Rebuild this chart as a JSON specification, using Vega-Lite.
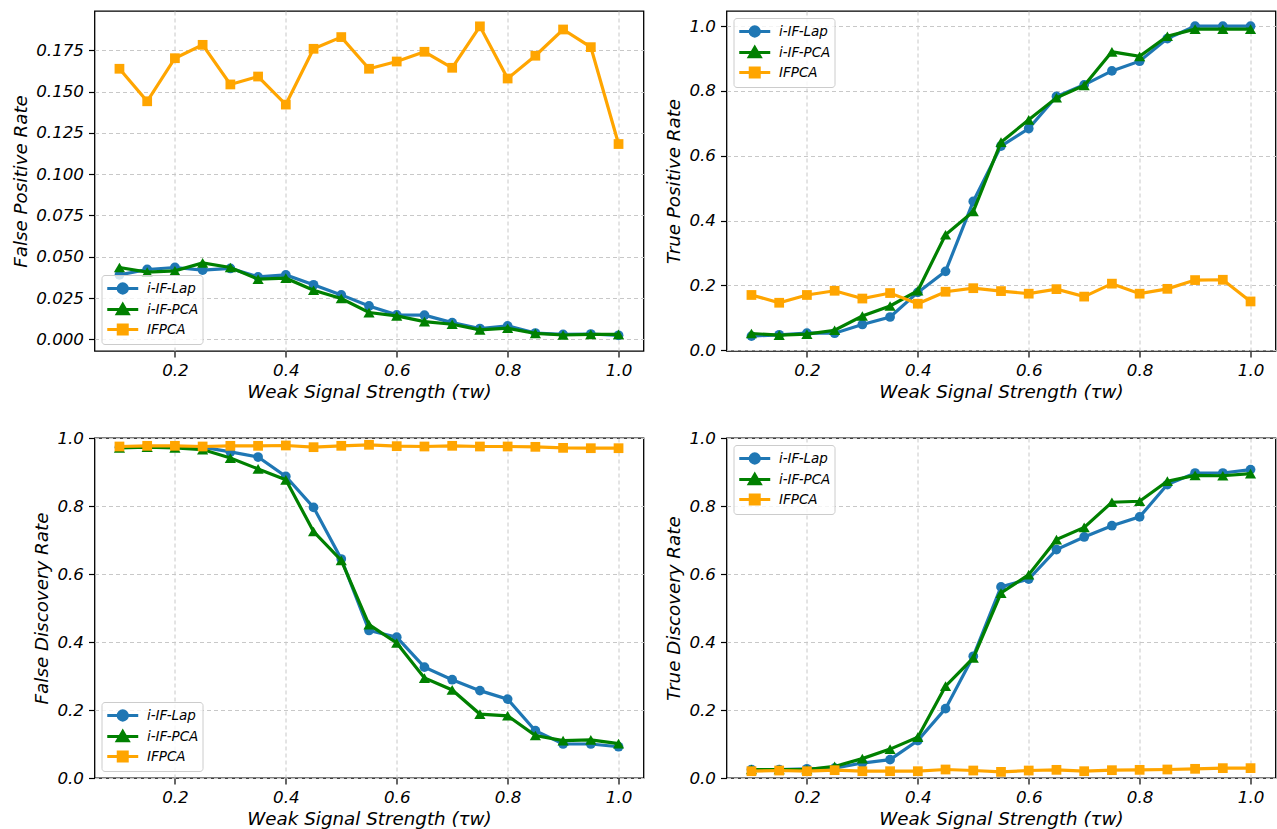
{
  "$schema": "https://vega.github.io/schema/vega-lite/v6.json",
  "padding": {"left": 10.5, "top": 10, "right": 0, "bottom": 0},
  "autosize": {"type": "pad"},
  "background": "white",
  "datasets": {
    "fpr": [
      {"t":0.1,"s":"i-IF-Lap","v":0.039},{"t":0.15,"s":"i-IF-Lap","v":0.0423},{"t":0.2,"s":"i-IF-Lap","v":0.0435},{"t":0.25,"s":"i-IF-Lap","v":0.0419},{"t":0.3,"s":"i-IF-Lap","v":0.0429},{"t":0.35,"s":"i-IF-Lap","v":0.0378},{"t":0.4,"s":"i-IF-Lap","v":0.039},{"t":0.45,"s":"i-IF-Lap","v":0.033},{"t":0.5,"s":"i-IF-Lap","v":0.0269},{"t":0.55,"s":"i-IF-Lap","v":0.0202},{"t":0.6,"s":"i-IF-Lap","v":0.0148},{"t":0.65,"s":"i-IF-Lap","v":0.0146},{"t":0.7,"s":"i-IF-Lap","v":0.0101},{"t":0.75,"s":"i-IF-Lap","v":0.0065},{"t":0.8,"s":"i-IF-Lap","v":0.0081},{"t":0.85,"s":"i-IF-Lap","v":0.0038},{"t":0.9,"s":"i-IF-Lap","v":0.003},{"t":0.95,"s":"i-IF-Lap","v":0.0032},{"t":1.0,"s":"i-IF-Lap","v":0.0024},
      {"t":0.1,"s":"i-IF-PCA","v":0.0435},{"t":0.15,"s":"i-IF-PCA","v":0.0407},{"t":0.2,"s":"i-IF-PCA","v":0.0415},{"t":0.25,"s":"i-IF-PCA","v":0.0463},{"t":0.3,"s":"i-IF-PCA","v":0.0435},{"t":0.35,"s":"i-IF-PCA","v":0.0364},{"t":0.4,"s":"i-IF-PCA","v":0.037},{"t":0.45,"s":"i-IF-PCA","v":0.0297},{"t":0.5,"s":"i-IF-PCA","v":0.0247},{"t":0.55,"s":"i-IF-PCA","v":0.0162},{"t":0.6,"s":"i-IF-PCA","v":0.0142},{"t":0.65,"s":"i-IF-PCA","v":0.0107},{"t":0.7,"s":"i-IF-PCA","v":0.0091},{"t":0.75,"s":"i-IF-PCA","v":0.0057},{"t":0.8,"s":"i-IF-PCA","v":0.0067},{"t":0.85,"s":"i-IF-PCA","v":0.0036},{"t":0.9,"s":"i-IF-PCA","v":0.0026},{"t":0.95,"s":"i-IF-PCA","v":0.003},{"t":1.0,"s":"i-IF-PCA","v":0.003},
      {"t":0.1,"s":"IFPCA","v":0.1639},{"t":0.15,"s":"IFPCA","v":0.1442},{"t":0.2,"s":"IFPCA","v":0.1703},{"t":0.25,"s":"IFPCA","v":0.1784},{"t":0.3,"s":"IFPCA","v":0.1544},{"t":0.35,"s":"IFPCA","v":0.1592},{"t":0.4,"s":"IFPCA","v":0.1422},{"t":0.45,"s":"IFPCA","v":0.176},{"t":0.5,"s":"IFPCA","v":0.1831},{"t":0.55,"s":"IFPCA","v":0.1639},{"t":0.6,"s":"IFPCA","v":0.1683},{"t":0.65,"s":"IFPCA","v":0.1742},{"t":0.7,"s":"IFPCA","v":0.1645},{"t":0.75,"s":"IFPCA","v":0.1896},{"t":0.8,"s":"IFPCA","v":0.158},{"t":0.85,"s":"IFPCA","v":0.1718},{"t":0.9,"s":"IFPCA","v":0.1877},{"t":0.95,"s":"IFPCA","v":0.177},{"t":1.0,"s":"IFPCA","v":0.1183}
    ],
    "tpr": [
      {"t":0.1,"s":"i-IF-Lap","v":0.043},{"t":0.15,"s":"i-IF-Lap","v":0.047},{"t":0.2,"s":"i-IF-Lap","v":0.052},{"t":0.25,"s":"i-IF-Lap","v":0.052},{"t":0.3,"s":"i-IF-Lap","v":0.079},{"t":0.35,"s":"i-IF-Lap","v":0.102},{"t":0.4,"s":"i-IF-Lap","v":0.178},{"t":0.45,"s":"i-IF-Lap","v":0.243},{"t":0.5,"s":"i-IF-Lap","v":0.459},{"t":0.55,"s":"i-IF-Lap","v":0.63},{"t":0.6,"s":"i-IF-Lap","v":0.684},{"t":0.65,"s":"i-IF-Lap","v":0.783},{"t":0.7,"s":"i-IF-Lap","v":0.819},{"t":0.75,"s":"i-IF-Lap","v":0.862},{"t":0.8,"s":"i-IF-Lap","v":0.892},{"t":0.85,"s":"i-IF-Lap","v":0.962},{"t":0.9,"s":"i-IF-Lap","v":1.0},{"t":0.95,"s":"i-IF-Lap","v":1.0},{"t":1.0,"s":"i-IF-Lap","v":1.0},
      {"t":0.1,"s":"i-IF-PCA","v":0.051},{"t":0.15,"s":"i-IF-PCA","v":0.046},{"t":0.2,"s":"i-IF-PCA","v":0.049},{"t":0.25,"s":"i-IF-PCA","v":0.061},{"t":0.3,"s":"i-IF-PCA","v":0.105},{"t":0.35,"s":"i-IF-PCA","v":0.136},{"t":0.4,"s":"i-IF-PCA","v":0.183},{"t":0.45,"s":"i-IF-PCA","v":0.356},{"t":0.5,"s":"i-IF-PCA","v":0.428},{"t":0.55,"s":"i-IF-PCA","v":0.642},{"t":0.6,"s":"i-IF-PCA","v":0.711},{"t":0.65,"s":"i-IF-PCA","v":0.779},{"t":0.7,"s":"i-IF-PCA","v":0.817},{"t":0.75,"s":"i-IF-PCA","v":0.921},{"t":0.8,"s":"i-IF-PCA","v":0.907},{"t":0.85,"s":"i-IF-PCA","v":0.969},{"t":0.9,"s":"i-IF-PCA","v":0.991},{"t":0.95,"s":"i-IF-PCA","v":0.991},{"t":1.0,"s":"i-IF-PCA","v":0.991},
      {"t":0.1,"s":"IFPCA","v":0.17},{"t":0.15,"s":"IFPCA","v":0.146},{"t":0.2,"s":"IFPCA","v":0.17},{"t":0.25,"s":"IFPCA","v":0.183},{"t":0.3,"s":"IFPCA","v":0.159},{"t":0.35,"s":"IFPCA","v":0.176},{"t":0.4,"s":"IFPCA","v":0.143},{"t":0.45,"s":"IFPCA","v":0.18},{"t":0.5,"s":"IFPCA","v":0.191},{"t":0.55,"s":"IFPCA","v":0.182},{"t":0.6,"s":"IFPCA","v":0.174},{"t":0.65,"s":"IFPCA","v":0.188},{"t":0.7,"s":"IFPCA","v":0.165},{"t":0.75,"s":"IFPCA","v":0.205},{"t":0.8,"s":"IFPCA","v":0.174},{"t":0.85,"s":"IFPCA","v":0.189},{"t":0.9,"s":"IFPCA","v":0.216},{"t":0.95,"s":"IFPCA","v":0.217},{"t":1.0,"s":"IFPCA","v":0.15}
    ],
    "fdr": [
      {"t":0.1,"s":"i-IF-Lap","v":0.973},{"t":0.15,"s":"i-IF-Lap","v":0.975},{"t":0.2,"s":"i-IF-Lap","v":0.975},{"t":0.25,"s":"i-IF-Lap","v":0.973},{"t":0.3,"s":"i-IF-Lap","v":0.959},{"t":0.35,"s":"i-IF-Lap","v":0.944},{"t":0.4,"s":"i-IF-Lap","v":0.887},{"t":0.45,"s":"i-IF-Lap","v":0.796},{"t":0.5,"s":"i-IF-Lap","v":0.644},{"t":0.55,"s":"i-IF-Lap","v":0.434},{"t":0.6,"s":"i-IF-Lap","v":0.414},{"t":0.65,"s":"i-IF-Lap","v":0.326},{"t":0.7,"s":"i-IF-Lap","v":0.289},{"t":0.75,"s":"i-IF-Lap","v":0.257},{"t":0.8,"s":"i-IF-Lap","v":0.232},{"t":0.85,"s":"i-IF-Lap","v":0.139},{"t":0.9,"s":"i-IF-Lap","v":0.1},{"t":0.95,"s":"i-IF-Lap","v":0.1},{"t":1.0,"s":"i-IF-Lap","v":0.092},
      {"t":0.1,"s":"i-IF-PCA","v":0.971},{"t":0.15,"s":"i-IF-PCA","v":0.973},{"t":0.2,"s":"i-IF-PCA","v":0.971},{"t":0.25,"s":"i-IF-PCA","v":0.966},{"t":0.3,"s":"i-IF-PCA","v":0.941},{"t":0.35,"s":"i-IF-PCA","v":0.909},{"t":0.4,"s":"i-IF-PCA","v":0.877},{"t":0.45,"s":"i-IF-PCA","v":0.725},{"t":0.5,"s":"i-IF-PCA","v":0.64},{"t":0.55,"s":"i-IF-PCA","v":0.451},{"t":0.6,"s":"i-IF-PCA","v":0.397},{"t":0.65,"s":"i-IF-PCA","v":0.294},{"t":0.7,"s":"i-IF-PCA","v":0.259},{"t":0.75,"s":"i-IF-PCA","v":0.188},{"t":0.8,"s":"i-IF-PCA","v":0.183},{"t":0.85,"s":"i-IF-PCA","v":0.125},{"t":0.9,"s":"i-IF-PCA","v":0.11},{"t":0.95,"s":"i-IF-PCA","v":0.112},{"t":1.0,"s":"i-IF-PCA","v":0.101},
      {"t":0.1,"s":"IFPCA","v":0.975},{"t":0.15,"s":"IFPCA","v":0.977},{"t":0.2,"s":"IFPCA","v":0.977},{"t":0.25,"s":"IFPCA","v":0.975},{"t":0.3,"s":"IFPCA","v":0.977},{"t":0.35,"s":"IFPCA","v":0.977},{"t":0.4,"s":"IFPCA","v":0.978},{"t":0.45,"s":"IFPCA","v":0.973},{"t":0.5,"s":"IFPCA","v":0.977},{"t":0.55,"s":"IFPCA","v":0.98},{"t":0.6,"s":"IFPCA","v":0.976},{"t":0.65,"s":"IFPCA","v":0.975},{"t":0.7,"s":"IFPCA","v":0.977},{"t":0.75,"s":"IFPCA","v":0.975},{"t":0.8,"s":"IFPCA","v":0.975},{"t":0.85,"s":"IFPCA","v":0.974},{"t":0.9,"s":"IFPCA","v":0.971},{"t":0.95,"s":"IFPCA","v":0.97},{"t":1.0,"s":"IFPCA","v":0.97}
    ],
    "tdr": [
      {"t":0.1,"s":"i-IF-Lap","v":0.025},{"t":0.15,"s":"i-IF-Lap","v":0.025},{"t":0.2,"s":"i-IF-Lap","v":0.027},{"t":0.25,"s":"i-IF-Lap","v":0.029},{"t":0.3,"s":"i-IF-Lap","v":0.044},{"t":0.35,"s":"i-IF-Lap","v":0.054},{"t":0.4,"s":"i-IF-Lap","v":0.11},{"t":0.45,"s":"i-IF-Lap","v":0.204},{"t":0.5,"s":"i-IF-Lap","v":0.358},{"t":0.55,"s":"i-IF-Lap","v":0.562},{"t":0.6,"s":"i-IF-Lap","v":0.585},{"t":0.65,"s":"i-IF-Lap","v":0.672},{"t":0.7,"s":"i-IF-Lap","v":0.709},{"t":0.75,"s":"i-IF-Lap","v":0.742},{"t":0.8,"s":"i-IF-Lap","v":0.768},{"t":0.85,"s":"i-IF-Lap","v":0.863},{"t":0.9,"s":"i-IF-Lap","v":0.897},{"t":0.95,"s":"i-IF-Lap","v":0.897},{"t":1.0,"s":"i-IF-Lap","v":0.907},
      {"t":0.1,"s":"i-IF-PCA","v":0.025},{"t":0.15,"s":"i-IF-PCA","v":0.025},{"t":0.2,"s":"i-IF-PCA","v":0.025},{"t":0.25,"s":"i-IF-PCA","v":0.034},{"t":0.3,"s":"i-IF-PCA","v":0.057},{"t":0.35,"s":"i-IF-PCA","v":0.085},{"t":0.4,"s":"i-IF-PCA","v":0.12},{"t":0.45,"s":"i-IF-PCA","v":0.27},{"t":0.5,"s":"i-IF-PCA","v":0.353},{"t":0.55,"s":"i-IF-PCA","v":0.544},{"t":0.6,"s":"i-IF-PCA","v":0.598},{"t":0.65,"s":"i-IF-PCA","v":0.701},{"t":0.7,"s":"i-IF-PCA","v":0.737},{"t":0.75,"s":"i-IF-PCA","v":0.811},{"t":0.8,"s":"i-IF-PCA","v":0.814},{"t":0.85,"s":"i-IF-PCA","v":0.873},{"t":0.9,"s":"i-IF-PCA","v":0.89},{"t":0.95,"s":"i-IF-PCA","v":0.889},{"t":1.0,"s":"i-IF-PCA","v":0.895},
      {"t":0.1,"s":"IFPCA","v":0.02},{"t":0.15,"s":"IFPCA","v":0.022},{"t":0.2,"s":"IFPCA","v":0.02},{"t":0.25,"s":"IFPCA","v":0.023},{"t":0.3,"s":"IFPCA","v":0.02},{"t":0.35,"s":"IFPCA","v":0.02},{"t":0.4,"s":"IFPCA","v":0.02},{"t":0.45,"s":"IFPCA","v":0.025},{"t":0.5,"s":"IFPCA","v":0.022},{"t":0.55,"s":"IFPCA","v":0.018},{"t":0.6,"s":"IFPCA","v":0.022},{"t":0.65,"s":"IFPCA","v":0.024},{"t":0.7,"s":"IFPCA","v":0.02},{"t":0.75,"s":"IFPCA","v":0.023},{"t":0.8,"s":"IFPCA","v":0.024},{"t":0.85,"s":"IFPCA","v":0.025},{"t":0.9,"s":"IFPCA","v":0.027},{"t":0.95,"s":"IFPCA","v":0.029},{"t":1.0,"s":"IFPCA","v":0.029}
    ]
  },
  "columns": 2,
  "spacing": {"row": 87, "column": 83},
  "bounds": "flush",
  "resolve": {
    "scale": {"x": "independent", "y": "independent", "color": "independent"},
    "legend": {"color": "independent"}
  },
  "concat": [
    {
      "width": 549, "height": 340,
      "data": {"name": "fpr"},
      "encoding": {
        "x": {"field": "t", "type": "quantitative", "title": "Weak Signal Strength (τw)", "scale": {"domain": [0.055, 1.045], "nice": false, "zero": false}, "axis": {"values": [0.2, 0.4, 0.6, 0.8, 1.0], "format": ".1f"}},
        "y": {"field": "v", "type": "quantitative", "title": "False Positive Rate", "scale": {"domain": [-0.0071, 0.1989], "nice": false, "zero": false}, "axis": {"values": [0, 0.025, 0.05, 0.075, 0.1, 0.125, 0.15, 0.175], "format": ".3f"}},
        "color": {"field": "s", "type": "nominal", "scale": {"domain": ["i-IF-Lap", "i-IF-PCA", "IFPCA"], "range": ["#1f77b4", "green", "orange"]},
          "legend": {"orient": "bottom-left", "offset": 7, "title": null, "padding": 4, "rowPadding": -2.5, "symbolSize": 240, "labelOffset": 22.5, "labelFont": "DejaVu Sans", "labelFontStyle": "italic", "labelFontSize": 13.5, "labelColor": "black", "fillColor": "rgba(255,255,255,0.8)", "strokeColor": "#cccccc", "cornerRadius": 3,
            "encode": {"symbols": {"update": {
              "shape": {"signal": "datum.value === 'i-IF-Lap' ? 'M-1,0H3M1.6,0A0.6,0.6 0 1,1 0.4,0A0.6,0.6 0 1,1 1.6,0' : datum.value === 'i-IF-PCA' ? 'M-1,0H3M1,-0.65L1.7,0.55L0.3,0.55Z' : 'M-1,0H3M0.42,-0.58H1.58V0.58H0.42Z'"},
              "size": {"value": 240},
              "fill": {"signal": "datum.value === 'i-IF-Lap' ? '#1f77b4' : datum.value === 'i-IF-PCA' ? 'green' : 'orange'"},
              "stroke": {"signal": "datum.value === 'i-IF-Lap' ? '#1f77b4' : datum.value === 'i-IF-PCA' ? 'green' : 'orange'"},
              "fillOpacity": {"value": 1}, "opacity": {"value": 1}, "strokeWidth": {"value": 3}}}}}}
      },
      "layer": [
        {"transform": [{"filter": "datum.s === 'i-IF-Lap'"}], "mark": {"type": "line", "strokeWidth": 3.2}},
        {"transform": [{"filter": "datum.s === 'i-IF-Lap'"}], "mark": {"type": "point", "shape": "circle", "filled": true, "size": 95, "opacity": 1}},
        {"transform": [{"filter": "datum.s === 'i-IF-PCA'"}], "mark": {"type": "line", "strokeWidth": 3.2}},
        {"transform": [{"filter": "datum.s === 'i-IF-PCA'"}], "mark": {"type": "point", "shape": "triangle-up", "filled": true, "size": 125, "opacity": 1}},
        {"transform": [{"filter": "datum.s === 'IFPCA'"}], "mark": {"type": "line", "strokeWidth": 3.2}},
        {"transform": [{"filter": "datum.s === 'IFPCA'"}], "mark": {"type": "point", "shape": "square", "filled": true, "size": 95, "opacity": 1}}
      ]
    },
    {
      "width": 549, "height": 340,
      "data": {"name": "tpr"},
      "encoding": {
        "x": {"field": "t", "type": "quantitative", "title": "Weak Signal Strength (τw)", "scale": {"domain": [0.055, 1.045], "nice": false, "zero": false}, "axis": {"values": [0.2, 0.4, 0.6, 0.8, 1.0], "format": ".1f"}},
        "y": {"field": "v", "type": "quantitative", "title": "True Positive Rate", "scale": {"domain": [-0.003, 1.047], "nice": false, "zero": false}, "axis": {"values": [0, 0.2, 0.4, 0.6, 0.8, 1.0], "format": ".1f"}},
        "color": {"field": "s", "type": "nominal", "scale": {"domain": ["i-IF-Lap", "i-IF-PCA", "IFPCA"], "range": ["#1f77b4", "green", "orange"]},
          "legend": {"orient": "top-left", "offset": 7, "title": null, "padding": 4, "rowPadding": -2.5, "symbolSize": 240, "labelOffset": 22.5, "labelFont": "DejaVu Sans", "labelFontStyle": "italic", "labelFontSize": 13.5, "labelColor": "black", "fillColor": "rgba(255,255,255,0.8)", "strokeColor": "#cccccc", "cornerRadius": 3,
            "encode": {"symbols": {"update": {
              "shape": {"signal": "datum.value === 'i-IF-Lap' ? 'M-1,0H3M1.6,0A0.6,0.6 0 1,1 0.4,0A0.6,0.6 0 1,1 1.6,0' : datum.value === 'i-IF-PCA' ? 'M-1,0H3M1,-0.65L1.7,0.55L0.3,0.55Z' : 'M-1,0H3M0.42,-0.58H1.58V0.58H0.42Z'"},
              "size": {"value": 240},
              "fill": {"signal": "datum.value === 'i-IF-Lap' ? '#1f77b4' : datum.value === 'i-IF-PCA' ? 'green' : 'orange'"},
              "stroke": {"signal": "datum.value === 'i-IF-Lap' ? '#1f77b4' : datum.value === 'i-IF-PCA' ? 'green' : 'orange'"},
              "fillOpacity": {"value": 1}, "opacity": {"value": 1}, "strokeWidth": {"value": 3}}}}}}
      },
      "layer": [
        {"transform": [{"filter": "datum.s === 'i-IF-Lap'"}], "mark": {"type": "line", "strokeWidth": 3.2}},
        {"transform": [{"filter": "datum.s === 'i-IF-Lap'"}], "mark": {"type": "point", "shape": "circle", "filled": true, "size": 95, "opacity": 1}},
        {"transform": [{"filter": "datum.s === 'i-IF-PCA'"}], "mark": {"type": "line", "strokeWidth": 3.2}},
        {"transform": [{"filter": "datum.s === 'i-IF-PCA'"}], "mark": {"type": "point", "shape": "triangle-up", "filled": true, "size": 125, "opacity": 1}},
        {"transform": [{"filter": "datum.s === 'IFPCA'"}], "mark": {"type": "line", "strokeWidth": 3.2}},
        {"transform": [{"filter": "datum.s === 'IFPCA'"}], "mark": {"type": "point", "shape": "square", "filled": true, "size": 95, "opacity": 1}}
      ]
    },
    {
      "width": 549, "height": 340,
      "data": {"name": "fdr"},
      "encoding": {
        "x": {"field": "t", "type": "quantitative", "title": "Weak Signal Strength (τw)", "scale": {"domain": [0.055, 1.045], "nice": false, "zero": false}, "axis": {"values": [0.2, 0.4, 0.6, 0.8, 1.0], "format": ".1f"}},
        "y": {"field": "v", "type": "quantitative", "title": "False Discovery Rate", "scale": {"domain": [0, 1], "nice": false, "zero": false}, "axis": {"values": [0, 0.2, 0.4, 0.6, 0.8, 1.0], "format": ".1f"}},
        "color": {"field": "s", "type": "nominal", "scale": {"domain": ["i-IF-Lap", "i-IF-PCA", "IFPCA"], "range": ["#1f77b4", "green", "orange"]},
          "legend": {"orient": "bottom-left", "offset": 7, "title": null, "padding": 4, "rowPadding": -2.5, "symbolSize": 240, "labelOffset": 22.5, "labelFont": "DejaVu Sans", "labelFontStyle": "italic", "labelFontSize": 13.5, "labelColor": "black", "fillColor": "rgba(255,255,255,0.8)", "strokeColor": "#cccccc", "cornerRadius": 3,
            "encode": {"symbols": {"update": {
              "shape": {"signal": "datum.value === 'i-IF-Lap' ? 'M-1,0H3M1.6,0A0.6,0.6 0 1,1 0.4,0A0.6,0.6 0 1,1 1.6,0' : datum.value === 'i-IF-PCA' ? 'M-1,0H3M1,-0.65L1.7,0.55L0.3,0.55Z' : 'M-1,0H3M0.42,-0.58H1.58V0.58H0.42Z'"},
              "size": {"value": 240},
              "fill": {"signal": "datum.value === 'i-IF-Lap' ? '#1f77b4' : datum.value === 'i-IF-PCA' ? 'green' : 'orange'"},
              "stroke": {"signal": "datum.value === 'i-IF-Lap' ? '#1f77b4' : datum.value === 'i-IF-PCA' ? 'green' : 'orange'"},
              "fillOpacity": {"value": 1}, "opacity": {"value": 1}, "strokeWidth": {"value": 3}}}}}}
      },
      "layer": [
        {"transform": [{"filter": "datum.s === 'i-IF-Lap'"}], "mark": {"type": "line", "strokeWidth": 3.2}},
        {"transform": [{"filter": "datum.s === 'i-IF-Lap'"}], "mark": {"type": "point", "shape": "circle", "filled": true, "size": 95, "opacity": 1}},
        {"transform": [{"filter": "datum.s === 'i-IF-PCA'"}], "mark": {"type": "line", "strokeWidth": 3.2}},
        {"transform": [{"filter": "datum.s === 'i-IF-PCA'"}], "mark": {"type": "point", "shape": "triangle-up", "filled": true, "size": 125, "opacity": 1}},
        {"transform": [{"filter": "datum.s === 'IFPCA'"}], "mark": {"type": "line", "strokeWidth": 3.2}},
        {"transform": [{"filter": "datum.s === 'IFPCA'"}], "mark": {"type": "point", "shape": "square", "filled": true, "size": 95, "opacity": 1}}
      ]
    },
    {
      "width": 549, "height": 340,
      "data": {"name": "tdr"},
      "encoding": {
        "x": {"field": "t", "type": "quantitative", "title": "Weak Signal Strength (τw)", "scale": {"domain": [0.055, 1.045], "nice": false, "zero": false}, "axis": {"values": [0.2, 0.4, 0.6, 0.8, 1.0], "format": ".1f"}},
        "y": {"field": "v", "type": "quantitative", "title": "True Discovery Rate", "scale": {"domain": [0, 1], "nice": false, "zero": false}, "axis": {"values": [0, 0.2, 0.4, 0.6, 0.8, 1.0], "format": ".1f"}},
        "color": {"field": "s", "type": "nominal", "scale": {"domain": ["i-IF-Lap", "i-IF-PCA", "IFPCA"], "range": ["#1f77b4", "green", "orange"]},
          "legend": {"orient": "top-left", "offset": 7, "title": null, "padding": 4, "rowPadding": -2.5, "symbolSize": 240, "labelOffset": 22.5, "labelFont": "DejaVu Sans", "labelFontStyle": "italic", "labelFontSize": 13.5, "labelColor": "black", "fillColor": "rgba(255,255,255,0.8)", "strokeColor": "#cccccc", "cornerRadius": 3,
            "encode": {"symbols": {"update": {
              "shape": {"signal": "datum.value === 'i-IF-Lap' ? 'M-1,0H3M1.6,0A0.6,0.6 0 1,1 0.4,0A0.6,0.6 0 1,1 1.6,0' : datum.value === 'i-IF-PCA' ? 'M-1,0H3M1,-0.65L1.7,0.55L0.3,0.55Z' : 'M-1,0H3M0.42,-0.58H1.58V0.58H0.42Z'"},
              "size": {"value": 240},
              "fill": {"signal": "datum.value === 'i-IF-Lap' ? '#1f77b4' : datum.value === 'i-IF-PCA' ? 'green' : 'orange'"},
              "stroke": {"signal": "datum.value === 'i-IF-Lap' ? '#1f77b4' : datum.value === 'i-IF-PCA' ? 'green' : 'orange'"},
              "fillOpacity": {"value": 1}, "opacity": {"value": 1}, "strokeWidth": {"value": 3}}}}}}
      },
      "layer": [
        {"transform": [{"filter": "datum.s === 'i-IF-Lap'"}], "mark": {"type": "line", "strokeWidth": 3.2}},
        {"transform": [{"filter": "datum.s === 'i-IF-Lap'"}], "mark": {"type": "point", "shape": "circle", "filled": true, "size": 95, "opacity": 1}},
        {"transform": [{"filter": "datum.s === 'i-IF-PCA'"}], "mark": {"type": "line", "strokeWidth": 3.2}},
        {"transform": [{"filter": "datum.s === 'i-IF-PCA'"}], "mark": {"type": "point", "shape": "triangle-up", "filled": true, "size": 125, "opacity": 1}},
        {"transform": [{"filter": "datum.s === 'IFPCA'"}], "mark": {"type": "line", "strokeWidth": 3.2}},
        {"transform": [{"filter": "datum.s === 'IFPCA'"}], "mark": {"type": "point", "shape": "square", "filled": true, "size": 95, "opacity": 1}}
      ]
    }
  ],
  "config": {
    "font": "DejaVu Sans",
    "view": {"stroke": "black", "strokeWidth": 1.3},
    "axis": {
      "domain": false,
      "labelFont": "DejaVu Sans", "labelFontStyle": "italic", "labelFontSize": 16.7, "labelColor": "black",
      "labelPadding": 5, "tickSize": 6, "tickColor": "black", "tickWidth": 1.2,
      "titleFont": "DejaVu Sans", "titleFontStyle": "italic", "titleFontWeight": "normal", "titleFontSize": 18.3, "titleColor": "black", "titlePadding": 5,
      "grid": true, "gridColor": "#c8c8c8", "gridDash": [4, 3], "gridWidth": 1,
      "labelFlush": false, "labelOverlap": false
    }
  }
}
